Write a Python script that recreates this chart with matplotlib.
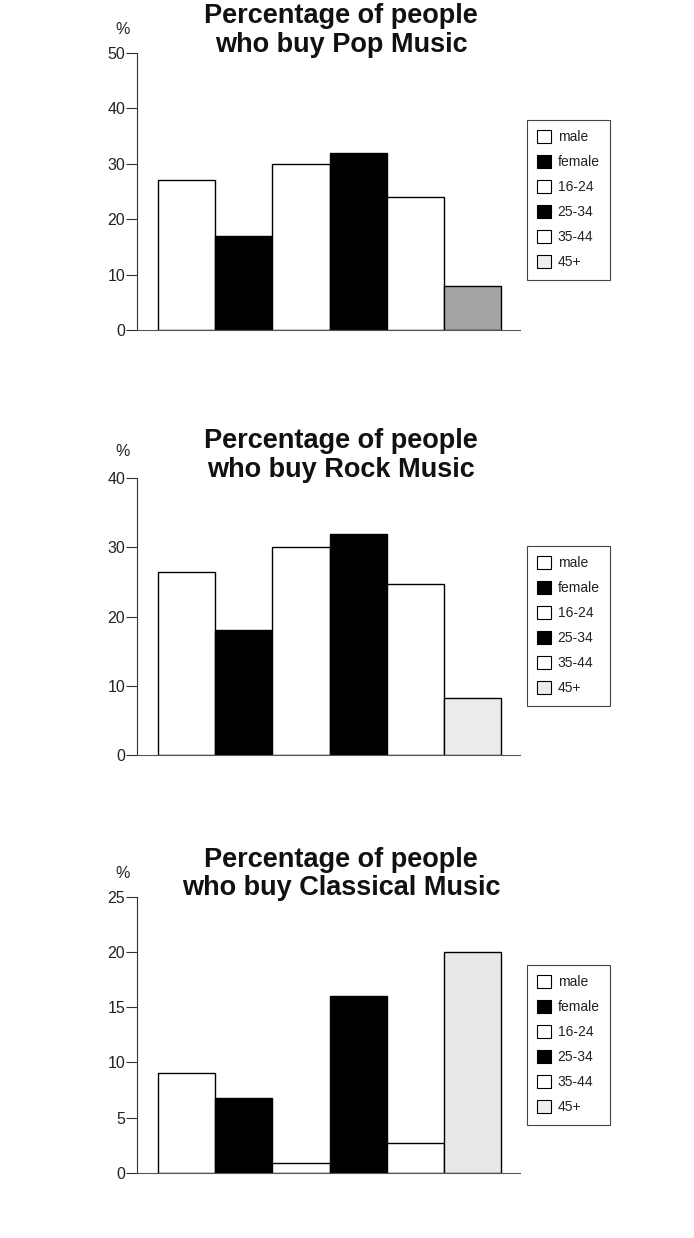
import matplotlib.pyplot as plt
from matplotlib.patches import Patch

plt.rcParams['font.family'] = ['Liberation Sans', 'DejaVu Sans']

# data
groups = ['male', 'female', '16-24', '25-34', '35-44', '45+']
pop = [27, 17, 30, 32, 24, 8]
rock = [26.5, 18, 30, 32, 24.7, 8.2]
classical = [9, 6.8, 0.9, 16, 2.7, 20]
titles = ['Percentage of people\nwho buy Pop Music',
          'Percentage of people\nwho buy Rock Music',
          'Percentage of people\nwho buy Classical Music']
ymaxes = [50, 40, 25]
ysteps = [10, 10, 5]

text_col = '#222222'
legend_cols = ['white', 'black', 'white', 'black', 'white', '#eeeeee']
last_cols = ['#a4a4a4', '#ececec', '#e8e8e8']

fig = plt.figure(figsize=(6.94, 12.38), dpi=100)

# axes boxes in pixels: (y of zero line, y of top tick), legend top
panels = [(330, 52.7, 120), (755, 478.3, 546), (1172.7, 896.7, 965)]
# baseline of the second title line, in pixels
title_y = [51.7, 476.7, 895]
pct_y = [30, 452, 873]

W, H = 694.0, 1238.0
for i, vals in enumerate([pop, rock, classical]):
    y0, y1, leg_top = panels[i]
    ax = fig.add_axes([137 / W, 1 - y0 / H, (520 - 137) / W, (y0 - y1) / H])
    cols = ['white', 'black', 'white', 'black', 'white', last_cols[i]]
    x = list(range(len(groups)))
    ax.bar(x, vals, width=1.0, color=cols, edgecolor='black', linewidth=1.0)
    ax.set_xlim(-0.87, 5.83)
    ax.set_ylim(0, ymaxes[i])
    ax.set_yticks(range(0, ymaxes[i] + 1, ysteps[i]))
    ax.set_xticks([])
    for s in ['top', 'right']:
        ax.spines[s].set_visible(False)
    ax.spines['left'].set_color('#333333')
    ax.spines['bottom'].set_color('#555555')
    ax.tick_params(axis='y', direction='out', length=8, width=0.8,
                   colors='#333333', labelsize=11.5, pad=0.5, labelcolor=text_col)

    fig.text(341 / W, 1 - title_y[i] / H, titles[i], ha='center', va='baseline',
             fontsize=19.5, fontweight='bold', color='#111111', linespacing=1.12)
    fig.text(123 / W, 1 - pct_y[i] / H, '%', ha='center', va='center',
             fontsize=11.5, color=text_col)

    handles = [Patch(facecolor=c, edgecolor='black', linewidth=0.8) for c in legend_cols]
    leg = fig.legend(handles, groups, loc='upper left',
                     bbox_to_anchor=(527 / W, 1 - leg_top / H),
                     bbox_transform=fig.transFigure, borderaxespad=0,
                     fontsize=10, handlelength=1.0, handleheight=1.0,
                     labelspacing=0.79, handletextpad=0.45, borderpad=0.75,
                     fancybox=False, framealpha=1, edgecolor='#444444')
    leg.get_frame().set_linewidth(0.8)
    for t in leg.get_texts():
        t.set_color(text_col)

fig.savefig('out.png', dpi=100, facecolor='white')
